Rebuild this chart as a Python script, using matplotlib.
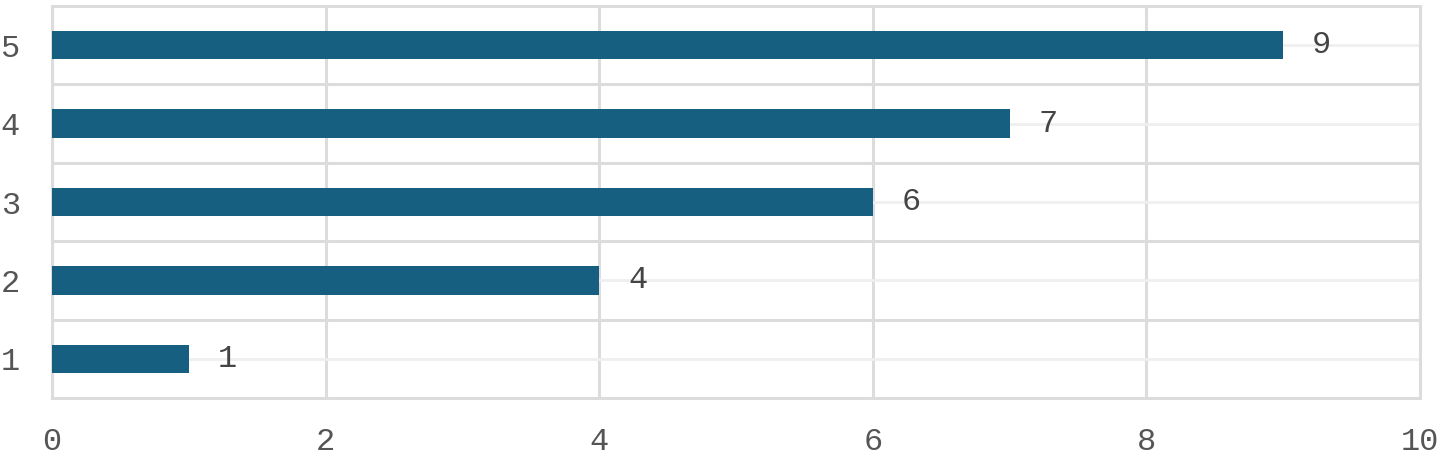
import matplotlib
matplotlib.use("Agg")
import matplotlib.pyplot as plt
from matplotlib.ticker import FixedLocator

categories = ["1", "2", "3", "4", "5"]
values = [1, 4, 6, 7, 9]
x_ticks = [0, 2, 4, 6, 8, 10]

plt.rcParams['font.family'] = ['Liberation Mono', 'DejaVu Sans Mono']

W, H = 1442, 454
fig = plt.figure(figsize=(W / 100, H / 100), dpi=100)
ax = fig.add_axes([52 / W, (H - 398) / H, (1420 - 52) / W, (398 - 6) / H])

ypos = list(range(1, len(categories) + 1))
ax.barh(ypos, values, height=0.36, color="#175f80", zorder=3)

ax.set_xlim(0, 10)
ax.set_ylim(0.5, len(categories) + 0.5)
ax.set_xticks(x_ticks)
ax.set_xticklabels([str(t) for t in x_ticks])
ax.set_yticks(ypos)
ax.set_yticklabels(categories)
ax.yaxis.set_minor_locator(FixedLocator([y + 0.5 for y in ypos[:-1]]))

ax.tick_params(axis='both', which='both', length=0, labelsize=23, labelcolor="#555555")
ax.tick_params(axis='x', pad=21)
ax.tick_params(axis='y', pad=23)

ax.grid(axis='x', which='major', color="#dcdcdc", linewidth=2.2, zorder=0)
ax.grid(axis='y', which='minor', color="#dcdcdc", linewidth=2.2, zorder=0)
ax.grid(axis='y', which='major', color="#efefef", linewidth=2.0, zorder=0)
ax.set_axisbelow(True)

for s in ax.spines.values():
    s.set_color("#dcdcdc")
    s.set_linewidth(2.2)
    s.set_zorder(1)

for y, v in zip(ypos, values):
    ax.annotate(str(v), xy=(v, y), xytext=(29, 0), textcoords='offset pixels',
                ha='left', va='center', fontsize=23, color="#444444", zorder=4)

fig.savefig("out.png", dpi=100, facecolor="white")
